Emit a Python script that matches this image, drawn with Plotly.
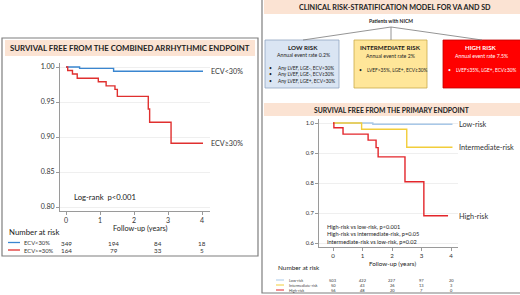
import plotly.graph_objects as go

W, H = 520, 295
FONT = "Lato"

# ---------------- data ----------------
# Left panel: combined arrhythmic endpoint
ecv_low_t = [0, 0.4, 1.4, 4.03]
ecv_low_s = [1.0, 0.998, 0.994, 0.994]
ecv_high_t = [0, 0.05, 0.19, 0.33, 0.95, 1.18, 1.44, 1.51, 2.42, 2.46, 3.09, 4.03]
ecv_high_s = [1.0, 0.995, 0.990, 0.984, 0.979, 0.973, 0.968, 0.958, 0.940, 0.921, 0.891, 0.891]
left_yticks = [0.80, 0.85, 0.90, 0.95, 1.00]
left_xticks = [0, 1, 2, 3, 4]
left_risk_times = [0, 1.4, 2.7, 4.0]
left_risk_low = [349, 194, 84, 18]
left_risk_high = [164, 79, 33, 5]
left_group_names = ["ECV<30%", "ECV>=30%"]

# Right panel: primary endpoint
low_t = [0, 1.35, 4.05]
low_s = [1.0, 0.996, 0.996]
int_t = [0, 0.97, 2.5, 4.05]
int_s = [1.0, 0.979, 0.919, 0.919]
high_t = [0, 0.03, 0.34, 1.19, 1.46, 1.53, 2.44, 3.08, 3.9]
high_s = [1.0, 0.984, 0.963, 0.943, 0.918, 0.887, 0.804, 0.691, 0.691]
right_yticks = [0.6, 0.7, 0.8, 0.9, 1.0]
right_xticks = [0, 1, 2, 3, 4]
right_risk_times = [0, 1, 2, 3, 4]
right_risk_low = [503, 422, 227, 97, 20]
right_risk_int = [50, 43, 26, 13, 3]
right_risk_high = [56, 48, 20, 7, 0]
right_group_names = ["Low-risk", "Intermediate-risk", "High-risk"]
pvalue_lines = ["High-risk vs low-risk, p<0.001",
                "High-risk vs intermediate-risk, p=0.05",
                "Intermediate-risk vs low-risk, p=0.02"]

C_BLUE = "#3a86d0"
C_RED = "#e0302f"
C_LOWR = "#a8c8e8"
C_INT = "#f2cd3a"
C_HIGH = "#e3262b"

def px(x):
    return x / W

def py(y):
    return 1 - y / H

fig = go.Figure()

# ---------------- curves ----------------
fig.add_trace(go.Scatter(x=ecv_low_t, y=ecv_low_s, mode="lines", line=dict(color=C_BLUE, width=1.4, shape="hv"),
                         xaxis="x", yaxis="y", showlegend=False, hoverinfo="skip"))
fig.add_trace(go.Scatter(x=ecv_high_t, y=ecv_high_s, mode="lines", line=dict(color=C_RED, width=1.4, shape="hv"),
                         xaxis="x", yaxis="y", showlegend=False, hoverinfo="skip"))
fig.add_trace(go.Scatter(x=low_t, y=low_s, mode="lines", line=dict(color=C_LOWR, width=1.4, shape="hv"),
                         xaxis="x2", yaxis="y2", showlegend=False, hoverinfo="skip"))
fig.add_trace(go.Scatter(x=int_t, y=int_s, mode="lines", line=dict(color=C_INT, width=1.4, shape="hv"),
                         xaxis="x2", yaxis="y2", showlegend=False, hoverinfo="skip"))
fig.add_trace(go.Scatter(x=high_t, y=high_s, mode="lines", line=dict(color=C_HIGH, width=1.4, shape="hv"),
                         xaxis="x2", yaxis="y2", showlegend=False, hoverinfo="skip"))

axcommon = dict(showline=True, linecolor="#9a9a9a", linewidth=1, ticks="outside", ticklen=3,
                tickcolor="#9a9a9a", zeroline=False, fixedrange=True)

# left axes: x 0->66px, 34px/yr; y 1.00 -> 67px, 700 px/unit
fig.update_layout(
    xaxis=dict(domain=[px(60), px(210)], range=[-6 / 34, 4 + 8 / 34], tickvals=left_xticks,
               showgrid=False, anchor="y", ticklabelstandoff=0,
               tickfont=dict(size=7, color="#333", family=FONT), **axcommon),
    yaxis=dict(domain=[py(211), py(63)], range=[1 - (211 - 67) / 700, 1 + 4 / 700], tickvals=left_yticks,
               ticktext=[f"{v:.2f}" for v in left_yticks], showgrid=True, gridcolor="#efefef",
               anchor="x", tickfont=dict(size=7, color="#333", family=FONT), **axcommon),
    xaxis2=dict(domain=[px(319), px(458)], range=[-14 / 29.5, 4 + 7 / 29.5], tickvals=right_xticks,
                showgrid=False, anchor="y2", ticklabelstandoff=0,
                tickfont=dict(size=6.2, color="#333", family=FONT), **axcommon),
    yaxis2=dict(domain=[py(247), py(119)], range=[0.6 - 4 / 300, 1 + 4 / 300], tickvals=right_yticks,
                ticktext=[f"{v:.1f}" for v in right_yticks], showgrid=True, gridcolor="#efefef",
                anchor="x2", tickfont=dict(size=5.8, color="#333", family=FONT), **axcommon),
)

shapes = []
ann = []

def rect(x0, y0, x1, y1, fill, line="#8a8a8a", lw=1, layer="below"):
    shapes.append(dict(type="rect", xref="paper", yref="paper", x0=px(x0), x1=px(x1), y0=py(y1), y1=py(y0),
                       fillcolor=fill, line=dict(color=line, width=lw), layer=layer))

def line(x0, y0, x1, y1, color, lw=1):
    shapes.append(dict(type="line", xref="paper", yref="paper", x0=px(x0), x1=px(x1), y0=py(y0), y1=py(y1),
                       line=dict(color=color, width=lw)))

def text(x, y, s, size, color="#222", bold=False, xanchor="left"):
    if bold:
        s = f"<b>{s}</b>"
    ann.append(dict(xref="paper", yref="paper", x=px(x), y=py(y), text=s, showarrow=False,
                    xanchor=xanchor, yanchor="middle", font=dict(size=size, color=color, family=FONT)))

# ---------------- left panel ----------------
rect(2, 38, 258, 256, "rgba(0,0,0,0)", line="#7f7f7f", lw=1.2)
rect(5, 40, 255, 56, "#fbe3d3", line="rgba(0,0,0,0)", lw=0)
text(130, 48.5, "SURVIVAL FREE FROM THE COMBINED ARRHYTHMIC ENDPOINT", 7.8, color="#222", bold=True, xanchor="center")
text(209, 71, "ECV<30%", 7.2, color="#333")
text(209, 143, "ECV≥30%", 7.2, color="#333")
text(72, 197, "Log-rank  p<0.001", 7.7, color="#222")
text(140, 228, "Follow-up (years)", 7.3, color="#222", xanchor="center")
text(7, 232, "Number at risk", 7.8, color="#222")
line(8, 242.5, 20, 242.5, C_BLUE, 1.3)
line(8, 250, 20, 250, C_RED, 1.3)
text(22, 242.5, left_group_names[0], 5.8, color="#333")
text(22, 250, left_group_names[1], 5.8, color="#333")
for t, a, b in zip(left_risk_times, left_risk_low, left_risk_high):
    ann.append(dict(xref="x", yref="paper", x=t, y=py(243), text=str(a), showarrow=False, xanchor="center",
                    yanchor="middle", font=dict(size=6.3, color="#333", family=FONT)))
    ann.append(dict(xref="x", yref="paper", x=t, y=py(250), text=str(b), showarrow=False, xanchor="center",
                    yanchor="middle", font=dict(size=6.3, color="#333", family=FONT)))

# ---------------- right panel ----------------
rect(262, -2, 522, 293, "rgba(0,0,0,0)", line="#7f7f7f", lw=1.2)
rect(264, 0, 520, 14, "#fbe3d3", line="rgba(0,0,0,0)", lw=0)
text(395, 7.5, "CLINICAL RISK-STRATIFICATION MODEL FOR VA AND SD", 7.2, color="#222", bold=True, xanchor="center")
text(391, 21.5, "Patients with NICM", 5, color="#222", bold=True, xanchor="center")
line(391, 27, 303, 40, "#7a7a7a", 0.8)
line(391, 27, 391, 40, "#7a7a7a", 0.8)
line(391, 27, 482, 40, "#7a7a7a", 0.8)

rect(265, 40, 339, 88, "#dae5f3", line="#8fa5c0", lw=0.8)
rect(354, 40, 427, 88, "#ffe699", line="#c9a94a", lw=0.8)
rect(443, 40, 522, 88, "#ff0000", line="#c00000", lw=0.8)

text(303, 47.5, "LOW RISK", 6.2, color="#1a1a1a", bold=True, xanchor="center")
text(303, 55, "Annual event rate 0.2%", 5.2, color="#222", xanchor="center")
for i, s in enumerate(["Any LVEF, LGE-, ECV<30%", "Any LVEF, LGE-, ECV≥30%", "Any LVEF, LGE+, ECV<30%"]):
    text(267, 67.5 + i * 6.5, "•", 5, color="#222")
    text(276, 67.5 + i * 6.5, s, 4.8, color="#222")

text(390, 47.5, "INTERMEDIATE RISK", 6.2, color="#1a1a1a", bold=True, xanchor="center")
text(390, 56, "Annual event rate 2%", 5.2, color="#222", xanchor="center")
text(357, 70, "•", 5, color="#222")
text(365, 70, "LVEF>35%, LGE+, ECV≥30%", 4.8, color="#222")

text(481, 47.5, "HIGH RISK", 6.2, color="#ffffff", bold=True, xanchor="center")
text(481, 56, "Annual event rate 7.5%", 5.2, color="#ffffff", xanchor="center")
text(446, 70, "•", 5, color="#ffffff")
text(454, 70, "LVEF≤35%, LGE+, ECV≥30%", 4.8, color="#ffffff")

rect(264, 103, 520, 116, "#fbe3d3", line="rgba(0,0,0,0)", lw=0)
text(391, 110, "SURVIVAL FREE FROM THE PRIMARY ENDPOINT", 6.8, color="#222", bold=True, xanchor="center")

text(457, 124.5, right_group_names[0], 7.3, color="#333")
text(457, 147, right_group_names[1], 7.3, color="#333")
text(457, 216, right_group_names[2], 7.3, color="#333")
for i, s in enumerate(pvalue_lines):
    text(325, 226 + i * 7.5, s, 5.6, color="#222")
text(392, 263, "Follow-up (years)", 6.3, color="#222", xanchor="center")
text(276, 267.5, "Number at risk", 6.4, color="#222")

row_y = [280, 285, 290]
row_colors = [C_LOWR, C_INT, C_HIGH]
row_vals = [right_risk_low, right_risk_int, right_risk_high]
for yy, c, name, vals in zip(row_y, row_colors, right_group_names, row_vals):
    line(276, yy, 284, yy, c, 1)
    text(287, yy, name, 3.8, color="#444")
    for t, v in zip(right_risk_times, vals):
        ann.append(dict(xref="x2", yref="paper", x=t, y=py(yy), text=str(v), showarrow=False, xanchor="center",
                        yanchor="middle", font=dict(size=4, color="#333", family=FONT)))

fig.update_layout(
    width=W, height=H, margin=dict(l=0, r=0, t=0, b=0),
    paper_bgcolor="white", plot_bgcolor="white",
    shapes=shapes, annotations=ann, showlegend=False,
    font=dict(family=FONT),
)

fig.write_html("out.html", config={"displayModeBar": False},
               post_script="document.body.style.margin='0';document.body.style.overflow='hidden';")
